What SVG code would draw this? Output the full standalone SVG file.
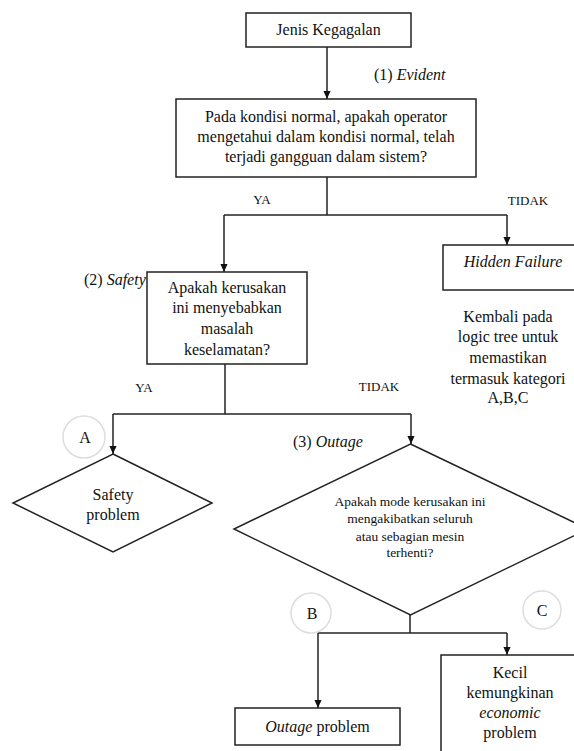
<svg xmlns="http://www.w3.org/2000/svg" width="574" height="751" viewBox="0 0 574 751">
<style>
  .box { fill: #fff; stroke: #222; stroke-width: 1.5; }
  .circ { fill: #fff; stroke: #ddd; stroke-width: 1.5; }
  .t { font-family: "Liberation Serif", "Times New Roman", serif; font-size: 16px; fill: #111; text-anchor: middle; }
  .s { font-size: 13px; }
  .d { font-size: 13.5px; }
  .lab { text-anchor: start; }
  .conn { fill: none; stroke: #222; stroke-width: 1.5; }
</style>
<defs>
  <marker id="ah" markerWidth="8" markerHeight="9" refX="9" refY="4" orient="auto" markerUnits="userSpaceOnUse" viewBox="0 0 9 8">
    <path d="M0,0 L9,4 L0,8 Z" fill="#111"/>
  </marker>
</defs>

<g id="labels">
  <text class="t lab" x="374" y="80">(1) <tspan font-style="italic">Evident</tspan></text>
  <text class="t s" x="262" y="204">YA</text>
  <text class="t s" x="528" y="205">TIDAK</text>
  <text class="t lab" x="84" y="285" font-size="16.5">(2) <tspan font-style="italic">Safety</tspan></text>
  <text class="t s" x="144" y="392">YA</text>
  <text class="t s" x="379" y="391">TIDAK</text>
  <text class="t lab" x="293" y="447">(3) <tspan font-style="italic">Outage</tspan></text>
</g>

<g id="connectors">
  <path class="conn" d="M327,47 V99" marker-end="url(#ah)"/>
  <path class="conn" d="M327,177 V215"/>
  <path class="conn" d="M224,215 H507"/>
  <path class="conn" d="M224,215 V272" marker-end="url(#ah)"/>
  <path class="conn" d="M507,215 V245" marker-end="url(#ah)"/>
  <path class="conn" d="M225,364 V414"/>
  <path class="conn" d="M113,414 H411"/>
  <path class="conn" d="M113,414 V454" marker-end="url(#ah)"/>
  <path class="conn" d="M411,414 V444" marker-end="url(#ah)"/>
  <path class="conn" d="M410,615 V633"/>
  <path class="conn" d="M318,633 H507"/>
  <path class="conn" d="M318,633 V708" marker-end="url(#ah)"/>
  <path class="conn" d="M507,633 V655" marker-end="url(#ah)"/>
</g>

<g id="n-jenis">
  <rect class="box" x="246" y="13" width="165" height="34"/>
  <text class="t" x="328.5" y="35">Jenis Kegagalan</text>
</g>

<g id="n-evident">
  <rect class="box" x="176" y="99" width="300" height="78"/>
  <text class="t" x="326" y="122">Pada kondisi normal, apakah operator</text>
  <text class="t" x="326" y="142">mengetahui dalam kondisi normal, telah</text>
  <text class="t" x="326" y="162">terjadi gangguan dalam sistem?</text>
</g>

<g id="n-safety">
  <rect class="box" x="147" y="272" width="160" height="92"/>
  <text class="t" x="227" y="293">Apakah kerusakan</text>
  <text class="t" x="227" y="313">ini menyebabkan</text>
  <text class="t" x="227" y="334">masalah</text>
  <text class="t" x="227" y="355">keselamatan?</text>
</g>

<g id="n-hidden">
  <rect class="box" x="443" y="245" width="140" height="45"/>
  <text class="t" x="513" y="267" font-style="italic">Hidden Failure</text>
</g>

<g id="n-kembali">
  <text class="t" x="508" y="322">Kembali pada</text>
  <text class="t" x="508" y="342">logic tree untuk</text>
  <text class="t" x="508" y="363">memastikan</text>
  <text class="t" x="508" y="384">termasuk kategori</text>
  <text class="t" x="508" y="403">A,B,C</text>
</g>

<g id="n-circleA">
  <circle class="circ" cx="84" cy="437" r="21"/>
  <text class="t" x="85" y="443">A</text>
</g>

<g id="n-safetyproblem">
  <polygon class="box" points="113,454 212,503 113,552 13,503"/>
  <text class="t" x="113" y="500">Safety</text>
  <text class="t" x="113" y="520">problem</text>
</g>

<g id="n-outage">
  <polygon class="box" points="410.5,444 588,529 410.5,615 234,529"/>
  <text class="t d" x="410" y="506">Apakah mode kerusakan ini</text>
  <text class="t d" x="410" y="523">mengakibatkan seluruh</text>
  <text class="t d" x="410" y="541">atau sebagian mesin</text>
  <text class="t d" x="410" y="557">terhenti?</text>
</g>

<g id="n-circleB">
  <circle class="circ" cx="311" cy="613" r="20"/>
  <text class="t" x="312" y="619">B</text>
</g>

<g id="n-circleC">
  <circle class="circ" cx="542" cy="610" r="19"/>
  <text class="t" x="542" y="616">C</text>
</g>

<g id="n-outageproblem">
  <rect class="box" x="235" y="708" width="165" height="37"/>
  <text class="t" x="317.5" y="732"><tspan font-style="italic">Outage</tspan> problem</text>
</g>

<g id="n-kecil">
  <rect class="box" x="441" y="655" width="145" height="110"/>
  <text class="t" x="510" y="678">Kecil</text>
  <text class="t" x="510" y="698">kemungkinan</text>
  <text class="t" x="510" y="718" font-style="italic">economic</text>
  <text class="t" x="510" y="738">problem</text>
</g>
</svg>
